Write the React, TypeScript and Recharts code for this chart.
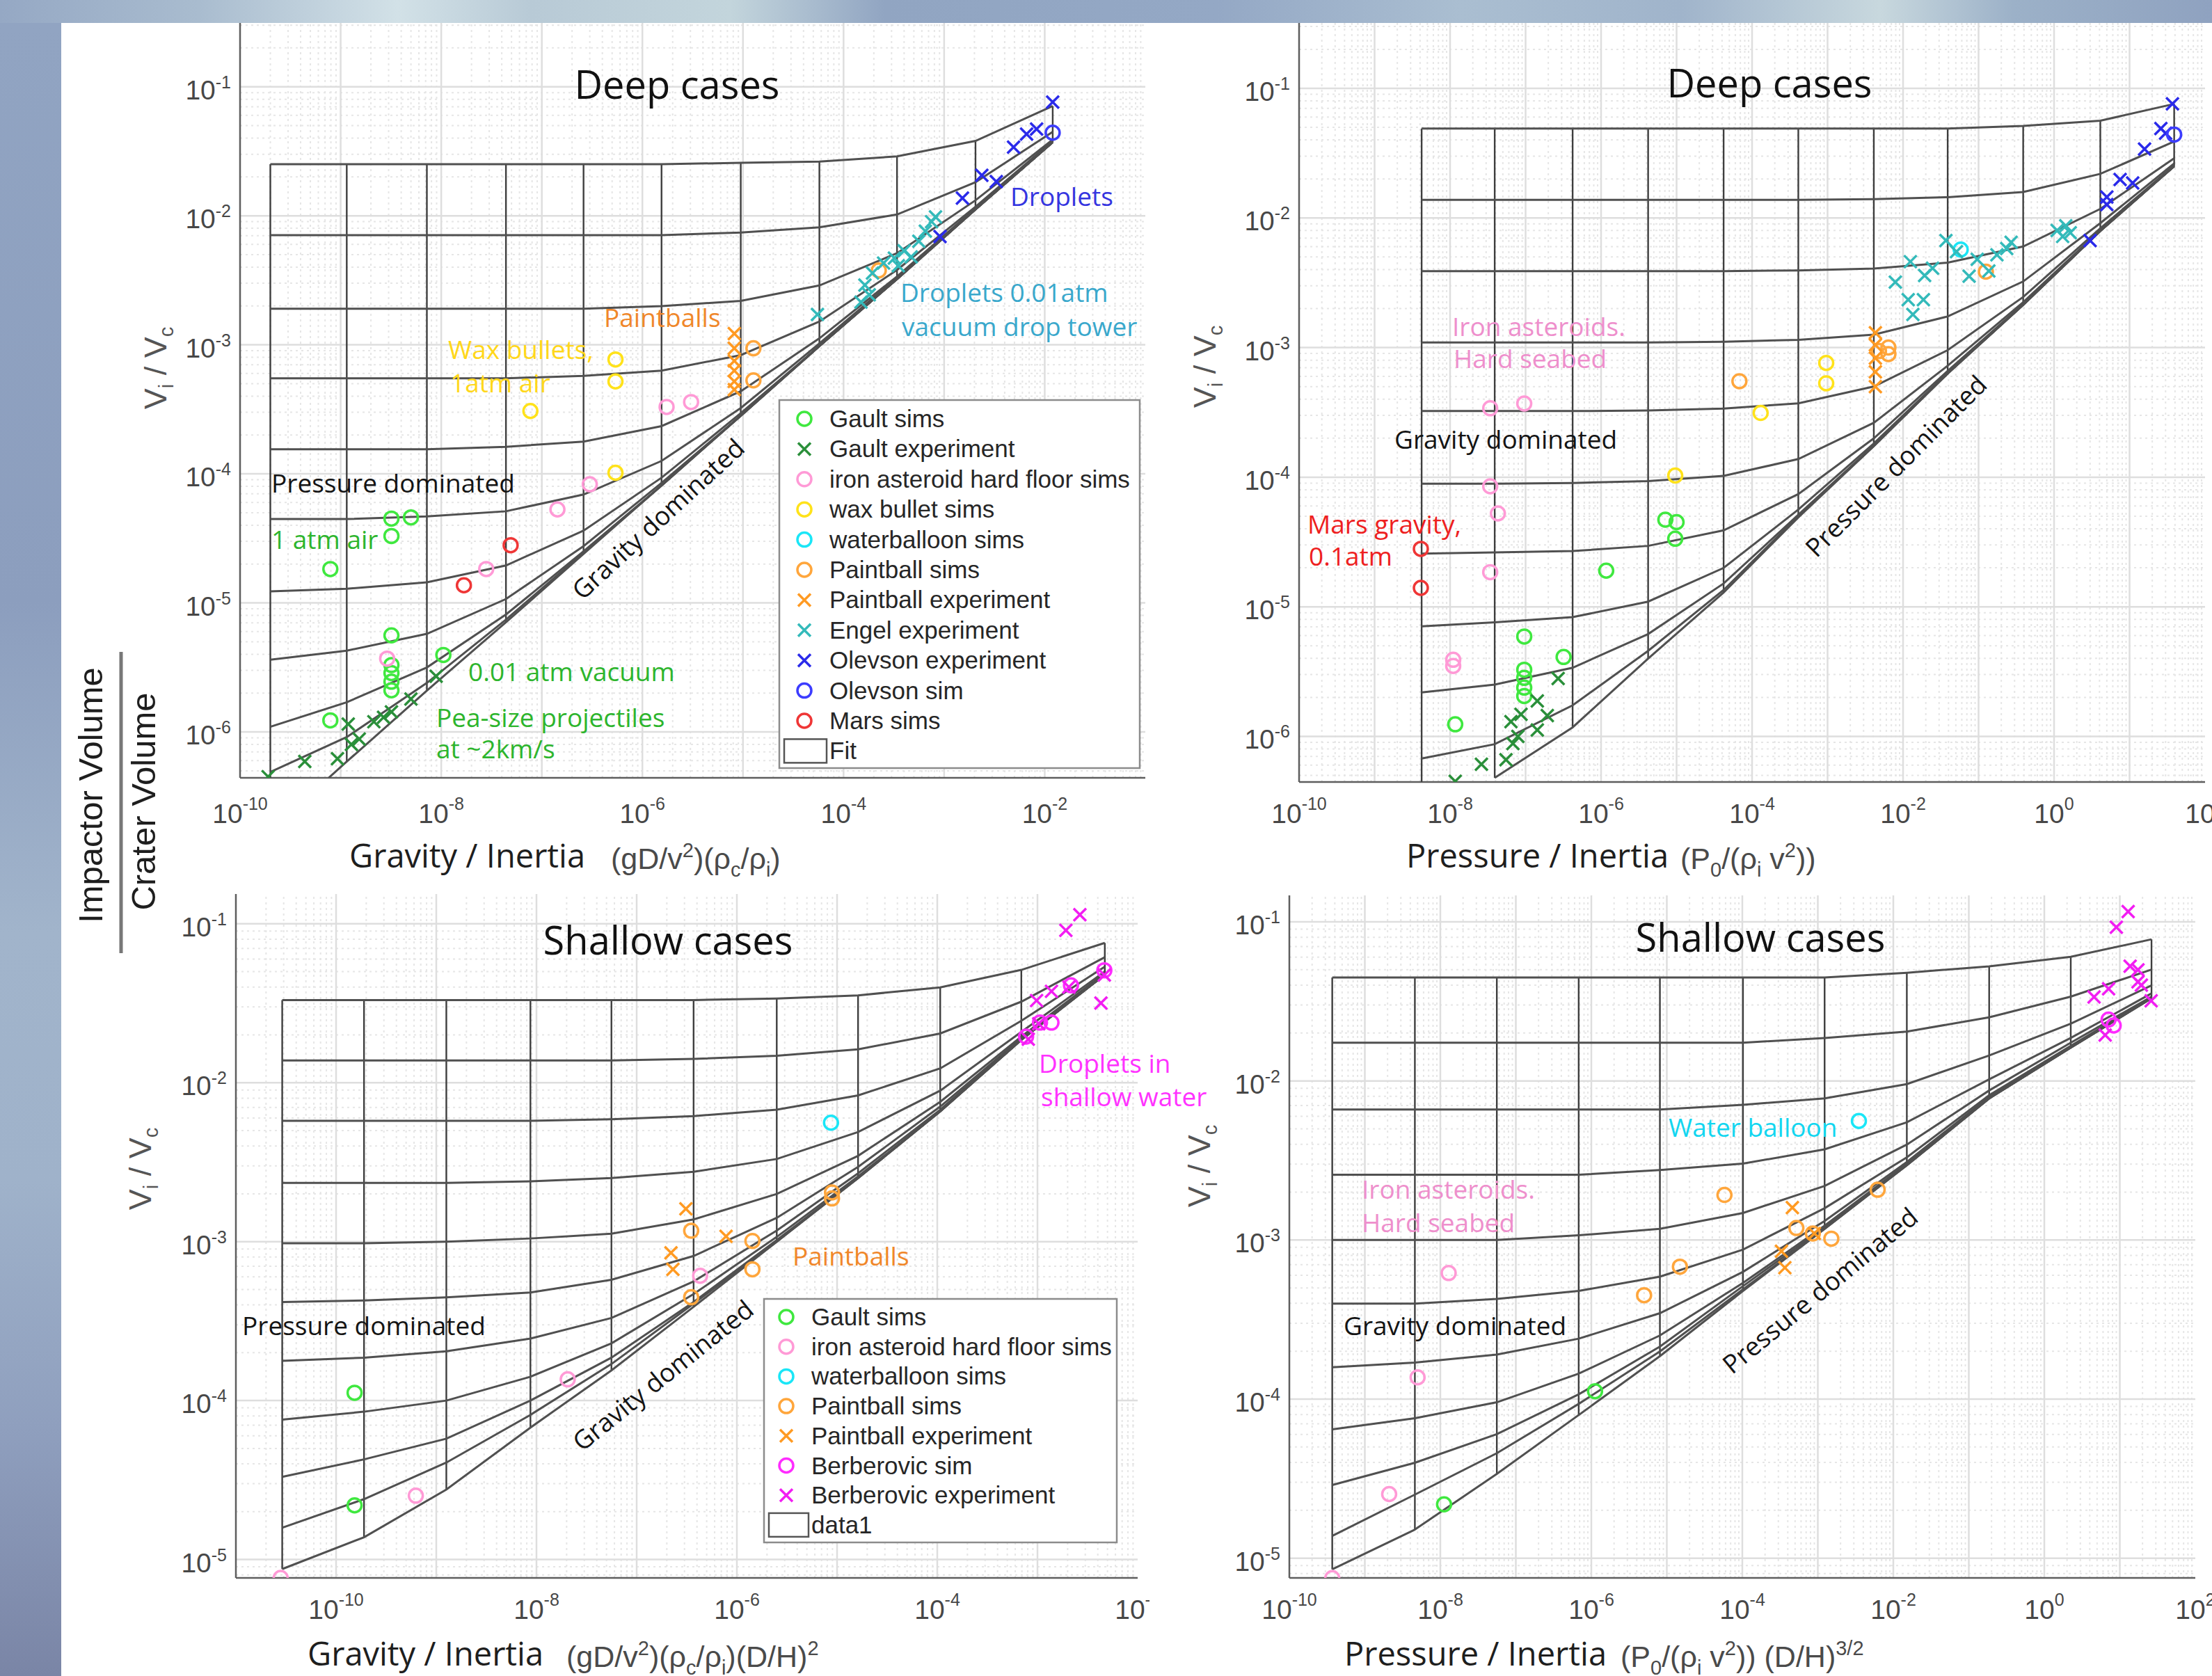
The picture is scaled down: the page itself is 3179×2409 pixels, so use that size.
import React from "react";
import { ScatterChart, Scatter, XAxis, YAxis, ReferenceLine } from "recharts";

type Pt = [number, number];

// ---------- panel 1 : deep cases vs gravity / inertia ----------
// x of the fit mesh's vertical lines, and log10(Vi/Vc) of each fit curve at those x
const P1_VX = [2.0e-10, 1.15e-9, 7.2e-9, 4.4e-8, 2.6e-7, 1.55e-6, 9.5e-6, 5.75e-5, 3.4e-4, 2.05e-3, 1.2e-2];
const P1_CURVES = [
  [-1.6, -1.6, -1.6, -1.6, -1.6, -1.6, -1.59, -1.58, -1.54, -1.42, -1.15],
  [-2.15, -2.15, -2.15, -2.15, -2.15, -2.15, -2.13, -2.09, -1.99, -1.74, -1.35],
  [-2.72, -2.72, -2.72, -2.72, -2.72, -2.7, -2.66, -2.54, -2.29, -1.88, -1.41],
  [-3.26, -3.26, -3.26, -3.26, -3.24, -3.2, -3.08, -2.82, -2.42, -1.93, -1.42],
  [-3.81, -3.81, -3.81, -3.79, -3.75, -3.63, -3.36, -2.95, -2.47, -1.94, -1.43],
  [-4.35, -4.35, -4.33, -4.29, -4.16, -3.9, -3.49, -2.99, -2.48, -1.95, -1.43],
  [-4.91, -4.89, -4.84, -4.71, -4.44, -4.03, -3.53, -3.01, -2.49, -1.95, -1.43],
  [-5.44, -5.37, -5.24, -4.97, -4.56, -4.07, -3.55, -3.01, -2.49, -1.95, -1.43],
  [-5.96, -5.77, -5.5, -5.09, -4.6, -4.09, -3.55, -3.01, -2.49, -1.95, -1.43],
  [-6.31, -6.04, -5.62, -5.13, -4.61, -4.09, -3.55, -3.01, -2.49, -1.95, -1.43],
];
const P1_VBOT = [-6.356, -6.23, -5.68, -5.15, -4.62, -4.09, -3.55, -3.01, -2.49, -1.95, -1.43];
const P1_BASE_START: Pt[] = [[7.6e-10, -6.356]];
const P1_BASE_FROM = 1;

const P1_GAULT_SIMS: Pt[] = [[7.9e-10, 1.83e-5], [3.2e-9, 4.5e-5], [5.0e-9, 4.6e-5], [3.2e-9, 3.3e-5], [3.2e-9, 5.6e-6], [3.2e-9, 3.3e-6], [3.2e-9, 2.86e-6], [3.2e-9, 2.45e-6], [3.2e-9, 2.1e-6], [1.05e-8, 3.95e-6], [7.9e-10, 1.23e-6]];
const P1_GAULT_EXP: Pt[] = [[1.9e-10, 4.5e-7], [4.4e-10, 5.9e-7], [9.3e-10, 6.2e-7], [1.19e-9, 1.15e-6], [1.28e-9, 8.0e-7], [1.53e-9, 8.8e-7], [2.14e-9, 1.2e-6], [2.67e-9, 1.3e-6], [3.2e-9, 1.43e-6], [5.0e-9, 1.8e-6], [8.9e-9, 2.7e-6]];
const P1_IRON: Pt[] = [[2.9e-9, 3.7e-6], [2.8e-8, 1.83e-5], [1.43e-7, 5.3e-5], [3.0e-7, 8.3e-5], [1.74e-6, 3.3e-4], [3.05e-6, 3.6e-4]];
const P1_WAX: Pt[] = [[7.7e-8, 3.07e-4], [5.4e-7, 7.7e-4], [5.4e-7, 5.2e-4], [5.4e-7, 1.02e-4]];
const P1_PAINT_SIMS: Pt[] = [[1.27e-5, 9.4e-4], [1.27e-5, 5.3e-4], [2.24e-4, 3.77e-3]];
const P1_PAINT_EXP: Pt[] = [[8.2e-6, 1.22e-3], [8.2e-6, 9.4e-4], [8.2e-6, 7.5e-4], [8.2e-6, 6.3e-4], [8.2e-6, 5.2e-4], [8.2e-6, 4.5e-4]];
const P1_ENGEL: Pt[] = [[5.5e-5, 1.72e-3], [1.49e-4, 2.14e-3], [1.63e-4, 2.9e-3], [1.94e-4, 3.6e-3], [2.5e-4, 4.3e-3], [3.2e-4, 4.7e-3], [4.0e-4, 5.35e-3], [4.7e-4, 4.8e-3], [5.6e-4, 6.35e-3], [6.5e-4, 7.6e-3], [7.5e-4, 9.0e-3], [8.2e-4, 9.8e-3], [3.5e-4, 4.1e-3], [1.8e-4, 2.44e-3]];
const P1_OLEV_EXP: Pt[] = [[9.1e-4, 6.9e-3], [1.52e-3, 1.37e-2], [2.37e-3, 2.06e-2], [3.3e-3, 1.84e-2], [4.9e-3, 3.4e-2], [6.6e-3, 4.3e-2], [8.3e-3, 4.7e-2], [1.2e-2, 7.6e-2]];
const P1_OLEV_SIM: Pt[] = [[1.2e-2, 4.4e-2]];
const P1_MARS: Pt[] = [[1.68e-8, 1.37e-5], [4.9e-8, 2.8e-5]];

// ---------- panel 2 : deep cases vs pressure / inertia ----------
const P2_VX = [4.2e-9, 3.9e-8, 4.2e-7, 4.2e-6, 4.2e-5, 4.1e-4, 4.1e-3, 3.9e-2, 0.39, 4.1, 39];
const P2_CURVES = [
  [-1.31, -1.31, -1.31, -1.31, -1.31, -1.31, -1.31, -1.31, -1.29, -1.25, -1.12],
  [-1.86, -1.86, -1.86, -1.86, -1.86, -1.86, -1.855, -1.84, -1.8, -1.66, -1.41],
  [-2.41, -2.41, -2.41, -2.41, -2.41, -2.405, -2.39, -2.345, -2.22, -1.93, -1.54],
  [-2.96, -2.96, -2.96, -2.96, -2.955, -2.94, -2.9, -2.76, -2.49, -2.04, -1.58],
  [-3.49, -3.49, -3.49, -3.485, -3.47, -3.43, -3.3, -3.02, -2.61, -2.08, -1.595],
  [-4.05, -4.05, -4.045, -4.03, -3.99, -3.86, -3.58, -3.14, -2.65, -2.095, -1.6],
  [-4.59, -4.58, -4.57, -4.53, -4.41, -4.13, -3.7, -3.18, -2.665, -2.1, -1.6],
  [-5.15, -5.12, -5.08, -4.96, -4.7, -4.25, -3.74, -3.195, -2.67, -2.1, -1.6],
  [-5.66, -5.6, -5.47, -5.21, -4.82, -4.29, -3.755, -3.2, -2.67, -2.1, -1.6],
  [-6.17, -6.06, -5.76, -5.34, -4.87, -4.3, -3.76, -3.2, -2.67, -2.1, -1.6],
];
const P2_VBOT = [-6.35, -6.32, -5.93, -5.4, -4.89, -4.31, -3.76, -3.2, -2.67, -2.1, -1.6];
const P2_BASE_START: Pt[] = [];
const P2_BASE_FROM = 1;

const P2_GAULT_SIMS: Pt[] = [[1.17e-8, 1.24e-6], [9.6e-8, 5.9e-6], [9.6e-8, 3.27e-6], [9.6e-8, 2.83e-6], [9.6e-8, 2.38e-6], [9.6e-8, 2.05e-6], [3.19e-7, 4.1e-6], [1.17e-6, 1.9e-5], [7.1e-6, 4.7e-5], [1.0e-5, 4.5e-5], [9.6e-6, 3.35e-5]];
const P2_GAULT_EXP: Pt[] = [[1.17e-8, 4.5e-7], [2.6e-8, 6.1e-7], [5.5e-8, 6.6e-7], [6.8e-8, 8.8e-7], [7.9e-8, 1.0e-6], [6.4e-8, 1.3e-6], [8.7e-8, 1.48e-6], [1.43e-7, 1.12e-6], [1.94e-7, 1.45e-6], [1.43e-7, 1.88e-6], [2.7e-7, 2.8e-6]];
const P2_IRON: Pt[] = [[1.1e-8, 3.9e-6], [1.1e-8, 3.5e-6], [3.4e-8, 3.4e-4], [9.6e-8, 3.7e-4], [3.4e-8, 8.5e-5], [4.3e-8, 5.25e-5], [3.4e-8, 1.85e-5]];
const P2_WAX: Pt[] = [[1.3e-4, 3.13e-4], [9.6e-4, 7.6e-4], [9.6e-4, 5.3e-4], [9.6e-6, 1.03e-4]];
const P2_WATER: Pt[] = [[5.8e-2, 5.7e-3]];
const P2_PAINT_SIMS: Pt[] = [[6.8e-5, 5.5e-4], [6.4e-3, 1.0e-3], [6.4e-3, 8.9e-4], [4.8e-3, 9.4e-4], [0.125, 3.85e-3]];
const P2_PAINT_EXP: Pt[] = [[4.3e-3, 1.3e-3], [4.3e-3, 1.05e-3], [4.3e-3, 8.3e-4], [4.3e-3, 6.5e-4], [4.3e-3, 5.0e-4]];
const P2_ENGEL: Pt[] = [[7.9e-3, 3.2e-3], [1.25e-2, 4.6e-3], [1.17e-2, 2.34e-3], [1.35e-2, 1.8e-3], [1.86e-2, 2.34e-3], [1.93e-2, 3.6e-3], [2.46e-2, 4.1e-3], [3.7e-2, 6.7e-3], [5.1e-2, 5.5e-3], [7.5e-2, 3.55e-3], [9.6e-2, 4.8e-3], [0.137, 3.9e-3], [0.175, 5.2e-3], [0.236, 5.8e-3], [0.27, 6.5e-3], [1.1, 8.0e-3], [1.43, 8.7e-3], [1.64, 7.7e-3], [1.3, 7.2e-3]];
const P2_OLEV_EXP: Pt[] = [[3.0, 6.7e-3], [5.0, 1.27e-2], [5.0, 1.45e-2], [7.5, 1.98e-2], [11, 1.86e-2], [15.8, 3.4e-2], [26, 4.9e-2], [30, 4.5e-2], [37, 7.6e-2]];
const P2_OLEV_SIM: Pt[] = [[39, 4.4e-2]];
const P2_MARS: Pt[] = [[4.1e-9, 2.8e-5], [4.1e-9, 1.4e-5]];

// ---------- panel 3 : shallow cases vs gravity / inertia ----------
const P3_VX = [2.9e-11, 1.9e-10, 1.26e-9, 8.7e-9, 5.6e-8, 3.7e-7, 2.5e-6, 1.62e-5, 1.07e-4, 6.9e-4, 4.7e-3];
const P3_CURVES = [
  [-1.48, -1.48, -1.48, -1.48, -1.48, -1.48, -1.47, -1.45, -1.4, -1.29, -1.12],
  [-1.86, -1.86, -1.86, -1.86, -1.86, -1.85, -1.83, -1.79, -1.69, -1.49, -1.21],
  [-2.24, -2.24, -2.24, -2.24, -2.23, -2.21, -2.17, -2.08, -1.91, -1.61, -1.27],
  [-2.63, -2.63, -2.63, -2.62, -2.6, -2.56, -2.48, -2.31, -2.05, -1.68, -1.3],
  [-3.01, -3.01, -3.0, -2.98, -2.95, -2.86, -2.7, -2.46, -2.12, -1.71, -1.31],
  [-3.38, -3.37, -3.35, -3.32, -3.24, -3.09, -2.85, -2.53, -2.15, -1.72, -1.32],
  [-3.75, -3.73, -3.69, -3.61, -3.48, -3.25, -2.93, -2.57, -2.17, -1.72, -1.32],
  [-4.12, -4.07, -4.0, -3.85, -3.64, -3.33, -2.97, -2.59, -2.18, -1.73, -1.32],
  [-4.48, -4.37, -4.24, -4.0, -3.73, -3.38, -2.99, -2.6, -2.18, -1.73, -1.32],
  [-4.8, -4.62, -4.39, -4.09, -3.77, -3.39, -3.0, -2.6, -2.18, -1.73, -1.32],
];
const P3_VBOT = [-5.06, -4.86, -4.56, -4.17, -3.81, -3.41, -3.0, -2.6, -2.18, -1.73, -1.32];
const P3_BASE_START: Pt[] = [];
const P3_BASE_FROM = 0;

const P3_GAULT_SIMS: Pt[] = [[1.53e-10, 1.12e-4], [1.53e-10, 2.19e-5]];
const P3_IRON: Pt[] = [[2.8e-11, 7.66e-6], [6.25e-10, 2.52e-5], [2.05e-8, 1.36e-4], [4.3e-7, 6.1e-4]];
const P3_WATER: Pt[] = [[8.7e-6, 5.6e-3]];
const P3_PAINT_SIMS: Pt[] = [[3.5e-7, 1.17e-3], [3.5e-7, 4.47e-4], [1.43e-6, 1.01e-3], [1.43e-6, 6.7e-4], [8.9e-6, 2.04e-3], [8.9e-6, 1.87e-3]];
const P3_PAINT_EXP: Pt[] = [[3.1e-7, 1.61e-3], [2.2e-7, 8.5e-4], [2.3e-7, 6.7e-4], [7.8e-7, 1.08e-3]];
const P3_BERB_SIM: Pt[] = [[7.7e-4, 1.95e-2], [1.06e-3, 2.39e-2], [1.38e-3, 2.39e-2], [2.16e-3, 4.1e-2], [4.65e-3, 5.1e-2]];
const P3_BERB_EXP: Pt[] = [[1.92e-3, 9.1e-2], [2.65e-3, 0.114], [9.8e-4, 3.29e-2], [1.38e-3, 3.76e-2], [2.06e-3, 4.0e-2], [4.65e-3, 4.76e-2], [4.3e-3, 3.17e-2], [8.1e-4, 1.88e-2], [1.03e-3, 2.35e-2]];

// ---------- panel 4 : shallow cases vs pressure / inertia ----------
const P4_VX = [3.7e-10, 4.6e-9, 5.6e-8, 6.8e-7, 8.1e-6, 1.02e-4, 1.23e-3, 1.51e-2, 0.186, 2.24, 26.3];
const P4_CURVES = [
  [-1.35, -1.35, -1.35, -1.35, -1.35, -1.35, -1.35, -1.32, -1.28, -1.22, -1.11],
  [-1.76, -1.76, -1.76, -1.76, -1.76, -1.76, -1.73, -1.69, -1.6, -1.47, -1.3],
  [-2.18, -2.18, -2.18, -2.18, -2.18, -2.15, -2.11, -2.02, -1.84, -1.64, -1.4],
  [-2.59, -2.59, -2.59, -2.59, -2.56, -2.52, -2.43, -2.26, -1.99, -1.73, -1.45],
  [-3.0, -3.0, -3.0, -2.97, -2.93, -2.83, -2.66, -2.4, -2.06, -1.76, -1.47],
  [-3.4, -3.4, -3.37, -3.32, -3.23, -3.06, -2.8, -2.48, -2.09, -1.78, -1.475],
  [-3.8, -3.77, -3.72, -3.62, -3.46, -3.2, -2.88, -2.51, -2.1, -1.785, -1.48],
  [-4.19, -4.12, -4.02, -3.84, -3.6, -3.27, -2.91, -2.52, -2.11, -1.79, -1.48],
  [-4.54, -4.4, -4.22, -3.97, -3.67, -3.29, -2.92, -2.53, -2.11, -1.79, -1.48],
  [-4.86, -4.6, -4.34, -4.03, -3.7, -3.31, -2.93, -2.53, -2.11, -1.79, -1.48],
];
const P4_VBOT = [-5.07, -4.82, -4.47, -4.1, -3.73, -3.32, -2.93, -2.53, -2.11, -1.79, -1.48];
const P4_BASE_START: Pt[] = [];
const P4_BASE_FROM = 0;

const P4_GAULT_SIMS: Pt[] = [[1.12e-8, 2.18e-5], [1.12e-6, 1.12e-4]];
const P4_IRON: Pt[] = [[3.7e-10, 7.5e-6], [2.1e-9, 2.53e-5], [5.0e-9, 1.37e-4], [1.29e-8, 6.2e-4]];
const P4_WATER: Pt[] = [[3.5e-3, 5.6e-3]];
const P4_PAINT_SIMS: Pt[] = [[5.0e-6, 4.5e-4], [1.49e-5, 6.8e-4], [5.8e-5, 1.92e-3], [5.2e-4, 1.19e-3], [1.51e-3, 1.02e-3], [6.2e-3, 2.07e-3], [8.6e-4, 1.1e-3]];
const P4_PAINT_EXP: Pt[] = [[4.6e-4, 1.6e-3], [3.3e-4, 8.5e-4], [3.66e-4, 6.7e-4], [9.0e-4, 1.1e-3]];
const P4_BERB_SIM: Pt[] = [[7.1, 2.43e-2], [8.3, 2.23e-2]];
const P4_BERB_EXP: Pt[] = [[9.0, 9.25e-2], [12.9, 0.116], [4.56, 3.37e-2], [7.1, 3.79e-2], [13.7, 5.26e-2], [17.4, 4.99e-2], [17.4, 4.2e-2], [19.3, 4.0e-2], [26, 3.19e-2], [6.4, 1.94e-2]];

const X_TICKS_G = [1e-10, 1e-8, 1e-6, 1e-4, 1e-2];
const X_TICKS_P = [1e-10, 1e-8, 1e-6, 1e-4, 1e-2, 1, 100];
const Y_TICKS_DEEP = [1e-6, 1e-5, 1e-4, 1e-3, 1e-2, 1e-1];
const Y_TICKS_SHALLOW = [1e-5, 1e-4, 1e-3, 1e-2, 1e-1];

const COL = {
  gaultSim: "#3fe83f",
  gaultExp: "#2a8f3a",
  iron: "#ff9ad6",
  wax: "#ffe21a",
  water: "#1ae6f7",
  paintSim: "#ffa63c",
  paintExp: "#ff9a22",
  engel: "#33baba",
  olevExp: "#2a2aea",
  olevSim: "#3c3cff",
  mars: "#ef3636",
  berbSim: "#ff2cff",
  berbExp: "#f21df2",
};

const TXT = "'Open Sans', sans-serif";
const AX = "'Liberation Sans', Arial, Helvetica, sans-serif";
const TICK_FILL = "#474747";
const YAW = 160; // y axis band width
const XAH = 110; // x axis band height

type Kind = "o" | "x";
type Series = { name: string; pts: Pt[]; color: string; kind: Kind };

const ring = (color: string) => (p: any) => (
  <circle cx={p.cx} cy={p.cy} r={10} fill="none" stroke={color} strokeWidth={3.5} />
);
const cross = (color: string) => (p: any) => (
  <path
    d={`M${p.cx - 9},${p.cy - 9}L${p.cx + 9},${p.cy + 9}M${p.cx - 9},${p.cy + 9}L${p.cx + 9},${p.cy - 9}`}
    stroke={color}
    strokeWidth={3.5}
    fill="none"
  />
);
const noShape = () => <g />;

const toXY = (pts: Pt[]) => pts.map(([x, y]) => ({ x, y }));
const logPts = (pts: Pt[]) => pts.map(([x, ly]) => ({ x, y: Math.pow(10, ly) }));

function gridValues(dom: [number, number]) {
  const lo = Math.floor(Math.log10(dom[0]));
  const hi = Math.ceil(Math.log10(dom[1]));
  const major: number[] = [];
  const minor: number[] = [];
  for (let k = lo; k <= hi; k++) {
    const b = Math.pow(10, k);
    if (b > dom[0] && b < dom[1]) major.push(b);
    for (let m = 2; m <= 9; m++) {
      const v = m * b;
      if (v > dom[0] && v < dom[1]) minor.push(v);
    }
  }
  return { major, minor };
}

type Panel = {
  left: number;
  top: number;
  w: number;
  h: number;
  xDom: [number, number];
  yDom: [number, number];
  xTicks: number[];
  yTicks: number[];
  xLabelDy: number;
  vx: number[];
  curves: number[][];
  vbot: number[];
  baseStart: Pt[];
  baseFrom: number;
  series: Series[];
  clipW?: number;
};

function PanelChart({ p }: { p: Panel }) {
  const gx = gridValues(p.xDom);
  const gy = gridValues(p.yDom);

  const curveLines = p.curves.map((row) => logPts(p.vx.map((x, j) => [x, row[j]] as Pt)));
  const verticals = p.vx.map((x, j) => logPts([[x, p.curves[0][j]], [x, p.vbot[j]]]));
  const base = logPts([...p.baseStart, ...p.vx.slice(p.baseFrom).map((x, i) => [x, p.vbot[i + p.baseFrom]] as Pt)]);

  const xTick = (t: any) => {
    const e = Math.round(Math.log10(t.payload.value));
    return (
      <text x={t.x} y={p.h + p.xLabelDy} textAnchor="middle" fontFamily={AX} fill={TICK_FILL}>
        <tspan fontSize={39}>10</tspan>
        <tspan fontSize={25} dy={-19}>{e}</tspan>
      </text>
    );
  };
  const yTick = (t: any) => {
    const e = Math.round(Math.log10(t.payload.value));
    return (
      <text x={YAW - 13} y={t.y + 18} textAnchor="end" fontFamily={AX} fill={TICK_FILL}>
        <tspan fontSize={39}>10</tspan>
        <tspan fontSize={25} dy={-16}>{e}</tspan>
      </text>
    );
  };

  const W = YAW + p.w + 40;
  const H = p.h + XAH;
  return (
    <div
      style={{
        position: "absolute",
        left: p.left - YAW,
        top: p.top,
        width: p.clipW ?? W,
        height: H,
        overflow: "hidden",
      }}
    >
      <ScatterChart width={W} height={H} margin={{ top: 0, right: 40, bottom: 0, left: 0 }}>
        <XAxis
          type="number"
          dataKey="x"
          scale="log"
          domain={p.xDom}
          allowDataOverflow
          ticks={p.xTicks}
          interval={0}
          tick={xTick}
          tickLine={false}
          axisLine={{ stroke: "#5e5e5e", strokeWidth: 2.5 }}
          height={XAH}
        />
        <YAxis
          type="number"
          dataKey="y"
          scale="log"
          domain={p.yDom}
          allowDataOverflow
          ticks={p.yTicks}
          interval={0}
          tick={yTick}
          tickLine={false}
          axisLine={{ stroke: "#5e5e5e", strokeWidth: 2.5 }}
          width={YAW}
        />
        {gx.minor.map((v) => (
          <ReferenceLine key={`xm${v}`} x={v} stroke="#e6e6e6" strokeWidth={2} strokeDasharray="3 5" />
        ))}
        {gy.minor.map((v) => (
          <ReferenceLine key={`ym${v}`} y={v} stroke="#e6e6e6" strokeWidth={2} strokeDasharray="3 5" />
        ))}
        {gx.major.map((v) => (
          <ReferenceLine key={`xM${v}`} x={v} stroke="#dedede" strokeWidth={2.5} />
        ))}
        {gy.major.map((v) => (
          <ReferenceLine key={`yM${v}`} y={v} stroke="#dedede" strokeWidth={2.5} />
        ))}
        {verticals.map((d, i) => (
          <Scatter key={`v${i}`} data={d} line={{ stroke: "#3e3e3e", strokeWidth: 2.4 }} shape={noShape} isAnimationActive={false} />
        ))}
        {curveLines.map((d, i) => (
          <Scatter key={`c${i}`} data={d} line={{ stroke: "#505050", strokeWidth: 3 }} shape={noShape} isAnimationActive={false} />
        ))}
        <Scatter data={base} line={{ stroke: "#505050", strokeWidth: 3 }} shape={noShape} isAnimationActive={false} />
        {p.series.map((s) => (
          <Scatter
            key={s.name}
            name={s.name}
            data={toXY(s.pts)}
            shape={s.kind === "o" ? ring(s.color) : cross(s.color)}
            isAnimationActive={false}
          />
        ))}
      </ScatterChart>
    </div>
  );
}

const PANELS: Panel[] = [
  {
    left: 345, top: 33, w: 1301, h: 1085,
    xDom: [1e-10, 1e-1], yDom: [4.41e-7, 0.312],
    xTicks: X_TICKS_G, yTicks: Y_TICKS_DEEP, xLabelDy: 65,
    vx: P1_VX, curves: P1_CURVES, vbot: P1_VBOT, baseStart: P1_BASE_START, baseFrom: P1_BASE_FROM,
    series: [
      { name: "Gault sims", pts: P1_GAULT_SIMS, color: COL.gaultSim, kind: "o" },
      { name: "Gault experiment", pts: P1_GAULT_EXP, color: COL.gaultExp, kind: "x" },
      { name: "iron asteroid hard floor sims", pts: P1_IRON, color: COL.iron, kind: "o" },
      { name: "wax bullet sims", pts: P1_WAX, color: COL.wax, kind: "o" },
      { name: "Paintball sims", pts: P1_PAINT_SIMS, color: COL.paintSim, kind: "o" },
      { name: "Paintball experiment", pts: P1_PAINT_EXP, color: COL.paintExp, kind: "x" },
      { name: "Engel experiment", pts: P1_ENGEL, color: COL.engel, kind: "x" },
      { name: "Olevson experiment", pts: P1_OLEV_EXP, color: COL.olevExp, kind: "x" },
      { name: "Olevson sim", pts: P1_OLEV_SIM, color: COL.olevSim, kind: "o" },
      { name: "Mars sims", pts: P1_MARS, color: COL.mars, kind: "o" },
    ],
  },
  {
    left: 1867, top: 33, w: 1302, h: 1091,
    xDom: [1e-10, 100], yDom: [4.45e-7, 0.3195],
    xTicks: X_TICKS_P, yTicks: Y_TICKS_DEEP, xLabelDy: 59,
    vx: P2_VX, curves: P2_CURVES, vbot: P2_VBOT, baseStart: P2_BASE_START, baseFrom: P2_BASE_FROM,
    series: [
      { name: "Gault sims", pts: P2_GAULT_SIMS, color: COL.gaultSim, kind: "o" },
      { name: "Gault experiment", pts: P2_GAULT_EXP, color: COL.gaultExp, kind: "x" },
      { name: "iron asteroid hard floor sims", pts: P2_IRON, color: COL.iron, kind: "o" },
      { name: "wax bullet sims", pts: P2_WAX, color: COL.wax, kind: "o" },
      { name: "waterballoon sims", pts: P2_WATER, color: COL.water, kind: "o" },
      { name: "Paintball sims", pts: P2_PAINT_SIMS, color: COL.paintSim, kind: "o" },
      { name: "Paintball experiment", pts: P2_PAINT_EXP, color: COL.paintExp, kind: "x" },
      { name: "Engel experiment", pts: P2_ENGEL, color: COL.engel, kind: "x" },
      { name: "Olevson experiment", pts: P2_OLEV_EXP, color: COL.olevExp, kind: "x" },
      { name: "Olevson sim", pts: P2_OLEV_SIM, color: COL.olevSim, kind: "o" },
      { name: "Mars sims", pts: P2_MARS, color: COL.mars, kind: "o" },
    ],
  },
  {
    left: 339, top: 1285, w: 1296, h: 983,
    xDom: [1e-11, 1e-2], yDom: [7.66e-6, 0.154],
    xTicks: X_TICKS_G, yTicks: Y_TICKS_SHALLOW, xLabelDy: 59,
    vx: P3_VX, curves: P3_CURVES, vbot: P3_VBOT, baseStart: P3_BASE_START, baseFrom: P3_BASE_FROM,
    clipW: 1652 - (339 - YAW),
    series: [
      { name: "Gault sims", pts: P3_GAULT_SIMS, color: COL.gaultSim, kind: "o" },
      { name: "iron asteroid hard floor sims", pts: P3_IRON, color: COL.iron, kind: "o" },
      { name: "waterballoon sims", pts: P3_WATER, color: COL.water, kind: "o" },
      { name: "Paintball sims", pts: P3_PAINT_SIMS, color: COL.paintSim, kind: "o" },
      { name: "Paintball experiment", pts: P3_PAINT_EXP, color: COL.paintExp, kind: "x" },
      { name: "Berberovic sim", pts: P3_BERB_SIM, color: COL.berbSim, kind: "o" },
      { name: "Berberovic experiment", pts: P3_BERB_EXP, color: COL.berbExp, kind: "x" },
    ],
  },
  {
    left: 1853, top: 1287, w: 1302, h: 981,
    xDom: [1e-10, 100], yDom: [7.52e-6, 0.1466],
    xTicks: X_TICKS_P, yTicks: Y_TICKS_SHALLOW, xLabelDy: 59,
    vx: P4_VX, curves: P4_CURVES, vbot: P4_VBOT, baseStart: P4_BASE_START, baseFrom: P4_BASE_FROM,
    series: [
      { name: "Gault sims", pts: P4_GAULT_SIMS, color: COL.gaultSim, kind: "o" },
      { name: "iron asteroid hard floor sims", pts: P4_IRON, color: COL.iron, kind: "o" },
      { name: "waterballoon sims", pts: P4_WATER, color: COL.water, kind: "o" },
      { name: "Paintball sims", pts: P4_PAINT_SIMS, color: COL.paintSim, kind: "o" },
      { name: "Paintball experiment", pts: P4_PAINT_EXP, color: COL.paintExp, kind: "x" },
      { name: "Berberovic sim", pts: P4_BERB_SIM, color: COL.berbSim, kind: "o" },
      { name: "Berberovic experiment", pts: P4_BERB_EXP, color: COL.berbExp, kind: "x" },
    ],
  },
];

type LegendItem = { label: string; color: string; kind: Kind | "box" };
const LEGEND_DEEP: LegendItem[] = [
  { label: "Gault sims", color: COL.gaultSim, kind: "o" },
  { label: "Gault experiment", color: COL.gaultExp, kind: "x" },
  { label: "iron asteroid hard floor sims", color: COL.iron, kind: "o" },
  { label: "wax bullet sims", color: COL.wax, kind: "o" },
  { label: "waterballoon sims", color: COL.water, kind: "o" },
  { label: "Paintball sims", color: COL.paintSim, kind: "o" },
  { label: "Paintball experiment", color: COL.paintExp, kind: "x" },
  { label: "Engel experiment", color: COL.engel, kind: "x" },
  { label: "Olevson experiment", color: COL.olevExp, kind: "x" },
  { label: "Olevson sim", color: COL.olevSim, kind: "o" },
  { label: "Mars sims", color: COL.mars, kind: "o" },
  { label: "Fit", color: "#444", kind: "box" },
];
const LEGEND_SHALLOW: LegendItem[] = [
  { label: "Gault sims", color: COL.gaultSim, kind: "o" },
  { label: "iron asteroid hard floor sims", color: COL.iron, kind: "o" },
  { label: "waterballoon sims", color: COL.water, kind: "o" },
  { label: "Paintball sims", color: COL.paintSim, kind: "o" },
  { label: "Paintball experiment", color: COL.paintExp, kind: "x" },
  { label: "Berberovic sim", color: COL.berbSim, kind: "o" },
  { label: "Berberovic experiment", color: COL.berbExp, kind: "x" },
  { label: "data1", color: "#444", kind: "box" },
];

function LegendBox(props: {
  x: number; y: number; w: number; h: number; row0: number; step: number; mx: number; tx: number;
  items: LegendItem[];
}) {
  const { x, y, w, h, row0, step, mx, tx, items } = props;
  return (
    <g>
      <rect x={x} y={y} width={w} height={h} fill="#fff" stroke="#8c8c8c" strokeWidth={2.5} />
      {items.map((it, i) => {
        const cy = row0 + i * step;
        let mark: React.ReactNode;
        if (it.kind === "o") mark = ring(it.color)({ cx: mx, cy });
        else if (it.kind === "x") mark = cross(it.color)({ cx: mx, cy });
        else mark = <rect x={x + 7} y={cy - 17} width={tx - x - 11} height={34} fill="#fff" stroke="#555" strokeWidth={2.5} />;
        return (
          <g key={it.label}>
            {mark}
            <text x={tx} y={cy + 12} fontFamily={AX} fontSize={35} fill="#262626">{it.label}</text>
          </g>
        );
      })}
    </g>
  );
}

const NOTES = [
  { t: "Droplets", x: 1452, y: 296, c: "#3535e0" },
  { t: "Droplets 0.01atm", x: 1294, y: 434, c: "#3aa8cc" },
  { t: "vacuum drop tower", x: 1296, y: 483, c: "#3aa8cc" },
  { t: "Paintballs", x: 868, y: 470, c: "#f0872a" },
  { t: "Wax bullets,", x: 644, y: 516, c: "#ffd71a" },
  { t: "1atm air", x: 647, y: 564, c: "#ffd71a" },
  { t: "Pressure dominated", x: 390, y: 708, c: "#141414" },
  { t: "1 atm air", x: 390, y: 789, c: "#2db52d" },
  { t: "0.01 atm vacuum", x: 673, y: 979, c: "#2db52d" },
  { t: "Pea-size projectiles", x: 627, y: 1045, c: "#2db52d" },
  { t: "at ~2km/s", x: 627, y: 1090, c: "#2db52d" },
  { t: "Iron asteroids.", x: 2087, y: 483, c: "#ee8fcc" },
  { t: "Hard seabed", x: 2089, y: 529, c: "#ee8fcc" },
  { t: "Gravity dominated", x: 2004, y: 645, c: "#141414" },
  { t: "Mars gravity,", x: 1879, y: 767, c: "#ee2020" },
  { t: "0.1atm", x: 1881, y: 813, c: "#ee2020" },
  { t: "Droplets in", x: 1493, y: 1542, c: "#ff33ff" },
  { t: "shallow water", x: 1496, y: 1590, c: "#ff33ff" },
  { t: "Paintballs", x: 1139, y: 1819, c: "#f0872a" },
  { t: "Pressure dominated", x: 348, y: 1919, c: "#141414" },
  { t: "Water balloon", x: 2398, y: 1634, c: "#12d6f0" },
  { t: "Iron asteroids.", x: 1957, y: 1723, c: "#ee8fcc" },
  { t: "Hard seabed", x: 1957, y: 1771, c: "#ee8fcc" },
  { t: "Gravity dominated", x: 1931, y: 1919, c: "#141414" },
];
const SLANTED = [
  { t: "Gravity dominated", cx: 945, cy: 745, a: 42.6 },
  { t: "Pressure dominated", cx: 2724, cy: 669, a: 45 },
  { t: "Gravity dominated", cx: 952, cy: 1976, a: 38.8 },
  { t: "Pressure dominated", cx: 2615, cy: 1854, a: 39.5 },
];
const TITLES = [
  { t: "Deep cases", cx: 973, y: 142 },
  { t: "Deep cases", cx: 2543, y: 140 },
  { t: "Shallow cases", cx: 960, y: 1372 },
  { t: "Shallow cases", cx: 2530, y: 1368 },
];
const VLABELS = [
  { x: 239, y: 529 },
  { x: 1747, y: 527 },
  { x: 217, y: 1680 },
  { x: 1739, y: 1676 },
];

function VLabel({ x, y }: { x: number; y: number }) {
  return (
    <text transform={`rotate(-90 ${x} ${y})`} x={x} y={y} textAnchor="middle" fontFamily={AX} fontSize={45} fill="#555">
      V<tspan fontSize={29} dy={10}>i</tspan>
      <tspan dy={-10}> / V</tspan>
      <tspan fontSize={29} dy={10}>c</tspan>
    </text>
  );
}

function Overlay() {
  const sub = { fontSize: 29 } as const;
  return (
    <svg width={3179} height={2409} style={{ position: "absolute", left: 0, top: 0, pointerEvents: "none" }}>
      {TITLES.map((t, i) => (
        <text key={i} x={t.cx} y={t.y} textAnchor="middle" fontFamily={TXT} fontSize={56} fill="#111">{t.t}</text>
      ))}
      {NOTES.map((n, i) => (
        <text key={i} x={n.x} y={n.y} fontFamily={TXT} fontSize={37} fill={n.c}>{n.t}</text>
      ))}
      {SLANTED.map((s, i) => (
        <text key={i} transform={`rotate(${-s.a} ${s.cx} ${s.cy})`} x={s.cx} y={s.cy} textAnchor="middle" dominantBaseline="central" fontFamily={TXT} fontSize={37} fill="#141414">{s.t}</text>
      ))}
      {VLABELS.map((v, i) => <VLabel key={i} x={v.x} y={v.y} />)}

      {/* x axis labels */}
      <text x={502} y={1247} fontFamily={TXT} fontSize={47} fill="#1e1e1e">Gravity / Inertia</text>
      <text x={878} y={1249} fontFamily={AX} fontSize={43} fill="#4a4a4a">
        (gD/v<tspan {...sub} dy={-17}>2</tspan><tspan dy={17}>)(</tspan>ρ<tspan {...sub} dy={11}>c</tspan><tspan dy={-11}>/ρ</tspan><tspan {...sub} dy={11}>i</tspan><tspan dy={-11}>)</tspan>
      </text>
      <text x={2021} y={1247} fontFamily={TXT} fontSize={47} fill="#1e1e1e">Pressure / Inertia</text>
      <text x={2415} y={1249} fontFamily={AX} fontSize={43} fill="#4a4a4a">
        (P<tspan {...sub} dy={11}>0</tspan><tspan dy={-11}>/(ρ</tspan><tspan {...sub} dy={11}>i</tspan><tspan dy={-11}> v</tspan><tspan {...sub} dy={-17}>2</tspan><tspan dy={17}>))</tspan>
      </text>
      <text x={442} y={2394} fontFamily={TXT} fontSize={47} fill="#1e1e1e">Gravity / Inertia</text>
      <text x={814} y={2396} fontFamily={AX} fontSize={43} fill="#4a4a4a">
        (gD/v<tspan {...sub} dy={-17}>2</tspan><tspan dy={17}>)(</tspan>ρ<tspan {...sub} dy={11}>c</tspan><tspan dy={-11}>/ρ</tspan><tspan {...sub} dy={11}>i</tspan><tspan dy={-11}>)(D/H)</tspan><tspan {...sub} dy={-17}>2</tspan>
      </text>
      <text x={1932} y={2394} fontFamily={TXT} fontSize={47} fill="#1e1e1e">Pressure / Inertia</text>
      <text x={2329} y={2396} fontFamily={AX} fontSize={43} fill="#4a4a4a">
        (P<tspan {...sub} dy={11}>0</tspan><tspan dy={-11}>/(ρ</tspan><tspan {...sub} dy={11}>i</tspan><tspan dy={-11}> v</tspan><tspan {...sub} dy={-17}>2</tspan><tspan dy={17}>)) (D/H)</tspan><tspan {...sub} dy={-17}>3/2</tspan>
      </text>

      {/* shared y label */}
      <text transform="rotate(-90 147 1143)" x={147} y={1143} textAnchor="middle" fontFamily={AX} fontSize={49} fill="#1e1e1e">Impactor Volume</text>
      <line x1={174} y1={937} x2={174} y2={1370} stroke="#777" strokeWidth={5} />
      <text transform="rotate(-90 223 1152)" x={223} y={1152} textAnchor="middle" fontFamily={AX} fontSize={49} fill="#1e1e1e">Crater Volume</text>

      <LegendBox x={1120} y={575} w={518} h={529} row0={602} step={43.4} mx={1156} tx={1192} items={LEGEND_DEEP} />
      <LegendBox x={1098} y={1867} w={507} h={350} row0={1893} step={42.7} mx={1130} tx={1166} items={LEGEND_SHALLOW} />
    </svg>
  );
}

export default function App() {
  return (
    <div style={{ position: "absolute", left: 0, top: 0, width: 3179, height: 2409, overflow: "hidden", background: "#fff" }}>
      <div
        style={{
          position: "absolute", left: 0, top: 0, width: 3179, height: 33,
          background:
            "linear-gradient(90deg, #95a8c4 0%, #a9bccf 9%, #d2e1e7 18%, #b8cad6 24%, #c3d5dc 33%, #91a5c2 40%, #94a8c5 55%, #aabed1 66%, #a0b4cb 76%, #c8d8de 85%, #9cb1c8 91%, #8fa2c0 100%)",
        }}
      />
      <div
        style={{
          position: "absolute", left: 0, top: 33, width: 88, height: 2376,
          background: "linear-gradient(180deg, #91a4c2 0%, #8c9ebe 35%, #a1b4cb 55%, #9fb2ca 70%, #8f9fbe 85%, #7a85a6 100%)",
        }}
      />
      {PANELS.map((p, i) => <PanelChart key={i} p={p} />)}
      <Overlay />
    </div>
  );
}
